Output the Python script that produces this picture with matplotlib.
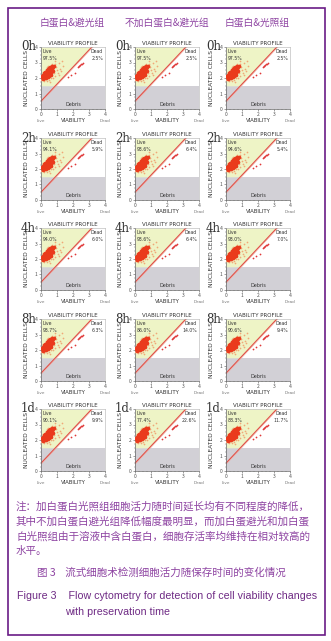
import matplotlib
matplotlib.use("Agg")
import matplotlib.pyplot as plt
import numpy as np
from matplotlib.patches import Rectangle

plt.rcParams['font.family'] = ['Noto Sans CJK SC', 'DejaVu Sans']

# ---------------- data ----------------
groups = ["白蛋白&避光组", "不加白蛋白&避光组", "白蛋白&光照组"]
times = ["0h", "2h", "4h", "8h", "1d"]
live_pct = [
    [97.5, 97.5, 97.5],
    [94.1, 93.6, 94.6],
    [94.0, 93.6, 93.0],
    [93.7, 86.0, 90.6],
    [90.1, 77.4, 88.3],
]
dead_pct = [
    [2.5, 2.5, 2.5],
    [5.9, 6.4, 5.4],
    [6.0, 6.4, 7.0],
    [6.3, 14.0, 9.4],
    [9.9, 22.6, 11.7],
]
# dense live-cell cluster (viability, nucleated cells)
core_x = [0.10, 0.15, 0.20, 0.25, 0.30, 0.20, 0.35, 0.40, 0.45, 0.50, 0.55, 0.60, 0.65, 0.70,
          0.75, 0.30, 0.40, 0.50, 0.25, 0.35, 0.45, 0.60, 0.55, 0.15, 0.05, 0.80, 0.65, 0.70,
          0.12, 0.22, 0.32, 0.42, 0.52, 0.62, 0.28, 0.38, 0.48, 0.58, 0.18, 0.08, 0.72, 0.33,
          0.43, 0.53, 0.27, 0.37, 0.47, 0.57, 0.67]
core_y = [2.00, 2.10, 2.05, 2.15, 2.20, 2.25, 2.30, 2.25, 2.40, 2.35, 2.50, 2.45, 2.60, 2.55,
          2.70, 2.10, 2.15, 2.20, 2.35, 2.45, 2.55, 2.30, 2.65, 1.95, 2.05, 2.80, 2.40, 2.75,
          2.20, 1.98, 2.02, 2.08, 2.12, 2.22, 2.40, 2.50, 2.62, 2.68, 2.30, 2.15, 2.45, 2.38,
          2.33, 2.45, 2.28, 2.18, 2.28, 2.38, 2.50]
halo_x = [0.9, 1.1, 0.8, 1.0, 0.6, 0.9, 1.2, 0.4, 0.2, 0.7, 1.3, 0.95, 0.5, 1.1, 0.3, 0.1, 0.85,
          1.4, 0.75, 1.05, 0.65, 0.45, 1.25, 0.55, 0.02, 0.35]
halo_y = [2.9, 3.0, 2.3, 2.5, 2.0, 2.1, 2.6, 1.8, 1.8, 2.9, 3.1, 2.7, 1.9, 2.2, 2.6, 2.4, 3.1,
          2.8, 2.0, 2.35, 2.85, 2.75, 2.45, 1.75, 1.9, 2.7]
dead_x = [2.30, 2.40, 2.50, 2.60, 2.45, 2.35, 2.55, 1.90, 2.10, 1.70]
dead_y = [2.70, 2.80, 2.90, 3.00, 2.85, 2.78, 2.92, 2.20, 2.35, 2.05]
gate_intercept = 0.5
gate_slope = 1.1
debris_cut = 1.5

note_lines = [
    "注：加白蛋白光照组细胞活力随时间延长均有不同程度的降低，",
    "其中不加白蛋白避光组降低幅度最明显，而加白蛋避光和加白蛋",
    "白光照组由于溶液中含白蛋白，细胞存活率均维持在相对较高的",
    "水平。",
]
cap_cn = "图 3    流式细胞术检测细胞活力随保存时间的变化情况"
cap_en1 = "Figure 3    Flow cytometry for detection of cell viability changes"
cap_en2 = "with preservation time"

# ---------------- layout ----------------
W, H = 331, 641
fig = plt.figure(figsize=(W / 100, H / 100), dpi=100)
fig.patch.set_facecolor("white")

purple_border = "#6a1b86"
purple_text = "#8e44a2"
purple_en = "#6e2a84"

def fx(px):
    return px / W

def fy(py):
    return 1 - py / H

fig.add_artist(Rectangle((fx(7.5), fy(634.5)), fx(317), (634.5 - 7.5) / H,
                         transform=fig.transFigure, fill=False,
                         edgecolor=purple_border, lw=1.2))

col_left = [41, 135, 226]
col_center = [72, 167, 257]
row_top = [47, 138, 228, 319, 409]
aw, ah = 64, 62

for j, g in enumerate(groups):
    fig.text(fx(col_center[j]), fy(23), g, ha="center", va="center",
             fontsize=7.0, color=purple_text)

xs = np.linspace(0, 4, 200)
gate = gate_intercept + gate_slope * xs
x_top = (4 - gate_intercept) / gate_slope

for i, t in enumerate(times):
    for j in range(3):
        ax = fig.add_axes([fx(col_left[j]), fy(row_top[i] + ah), fx(aw), ah / H])
        ax.set_xlim(0, 4)
        ax.set_ylim(0, 4)
        ax.axhspan(0, debris_cut, color="#d2d0d6", zorder=0, lw=0)
        xm = xs[xs <= x_top]
        ax.fill_between(xm, np.maximum(debris_cut, gate_intercept + gate_slope * xm), 4,
                        color="#eef4c6", zorder=0, lw=0)
        ax.plot(xs, gate, color="#e0524a", lw=0.9, zorder=2)
        ax.plot(xs + 0.07, gate, color="#f2a8a0", lw=0.4, zorder=2)
        ax.scatter(halo_x, halo_y, s=1.5, color="#f0a878", lw=0, zorder=3)
        ax.scatter(core_x, core_y, s=7, color="#ea3a1c", lw=0, zorder=4)
        ax.scatter(dead_x, dead_y, s=1.6, color="#e03838", lw=0, zorder=4)
        ax.set_xticks([0, 1, 2, 3, 4])
        ax.set_yticks([0, 1, 2, 3, 4])
        ax.set_xticks(np.arange(0, 4.01, 0.25), minor=True)
        ax.set_yticks(np.arange(0, 4.01, 0.25), minor=True)
        ax.tick_params(which="major", length=1.5, width=0.4, labelsize=3.6,
                       pad=0.8, colors="#555555")
        ax.tick_params(which="minor", length=0.8, width=0.3, colors="#555555")
        for s in ["left", "bottom"]:
            ax.spines[s].set_linewidth(0.5)
            ax.spines[s].set_color("#666666")
        for s in ["top", "right"]:
            ax.spines[s].set_linewidth(0.4)
            ax.spines[s].set_color("#b0b0b0")
        ax.text(0.5, 1.02, "VIABILITY PROFILE", transform=ax.transAxes, ha="center",
                va="bottom", fontsize=4.0, color="#333333", family="DejaVu Sans")
        ax.text(0.03, 0.96, "Live\n%.1f%%" % live_pct[i][j], transform=ax.transAxes,
                ha="left", va="top", fontsize=3.3, color="#333333", linespacing=1.3,
                family="DejaVu Sans")
        ax.text(0.97, 0.96, "Dead\n%.1f%%" % dead_pct[i][j], transform=ax.transAxes,
                ha="right", va="top", fontsize=3.3, color="#333333", linespacing=1.3,
                family="DejaVu Sans")
        ax.text(0.5, 0.03, "Debris", transform=ax.transAxes, ha="center", va="bottom",
                fontsize=3.5, color="#333333", family="DejaVu Sans")
        ax.text(-0.22, 0.5, "NUCLEATED CELLS", transform=ax.transAxes, rotation=90,
                ha="center", va="center", fontsize=4.3, color="#333333",
                family="DejaVu Sans")
        ax.text(0.5, -0.19, "VIABILITY", transform=ax.transAxes, ha="center",
                va="center", fontsize=3.9, color="#333333", family="DejaVu Sans")
        ax.text(0.0, -0.19, "Live", transform=ax.transAxes, ha="center",
                va="center", fontsize=3.0, color="#777777", family="DejaVu Sans")
        ax.text(1.0, -0.19, "Dead", transform=ax.transAxes, ha="center",
                va="center", fontsize=3.0, color="#777777", family="DejaVu Sans")
        ax.text(-0.08, 1.0, t, transform=ax.transAxes, ha="right", va="center",
                fontsize=8.5, color="#333333", family="DejaVu Serif")

for k, line in enumerate(note_lines):
    fig.text(fx(16), fy(506 + 15 * k), line, ha="left", va="center",
             fontsize=7.6, color=purple_text)

fig.text(fx(37), fy(573), cap_cn, ha="left", va="center", fontsize=7.6, color=purple_text)
fig.text(fx(17), fy(596), cap_en1, ha="left", va="center", fontsize=7.7,
         color=purple_en, family="Liberation Sans")
fig.text(fx(65), fy(612), cap_en2, ha="left", va="center", fontsize=7.7,
         color=purple_en, family="Liberation Sans")

fig.savefig("out.png", dpi=100)
